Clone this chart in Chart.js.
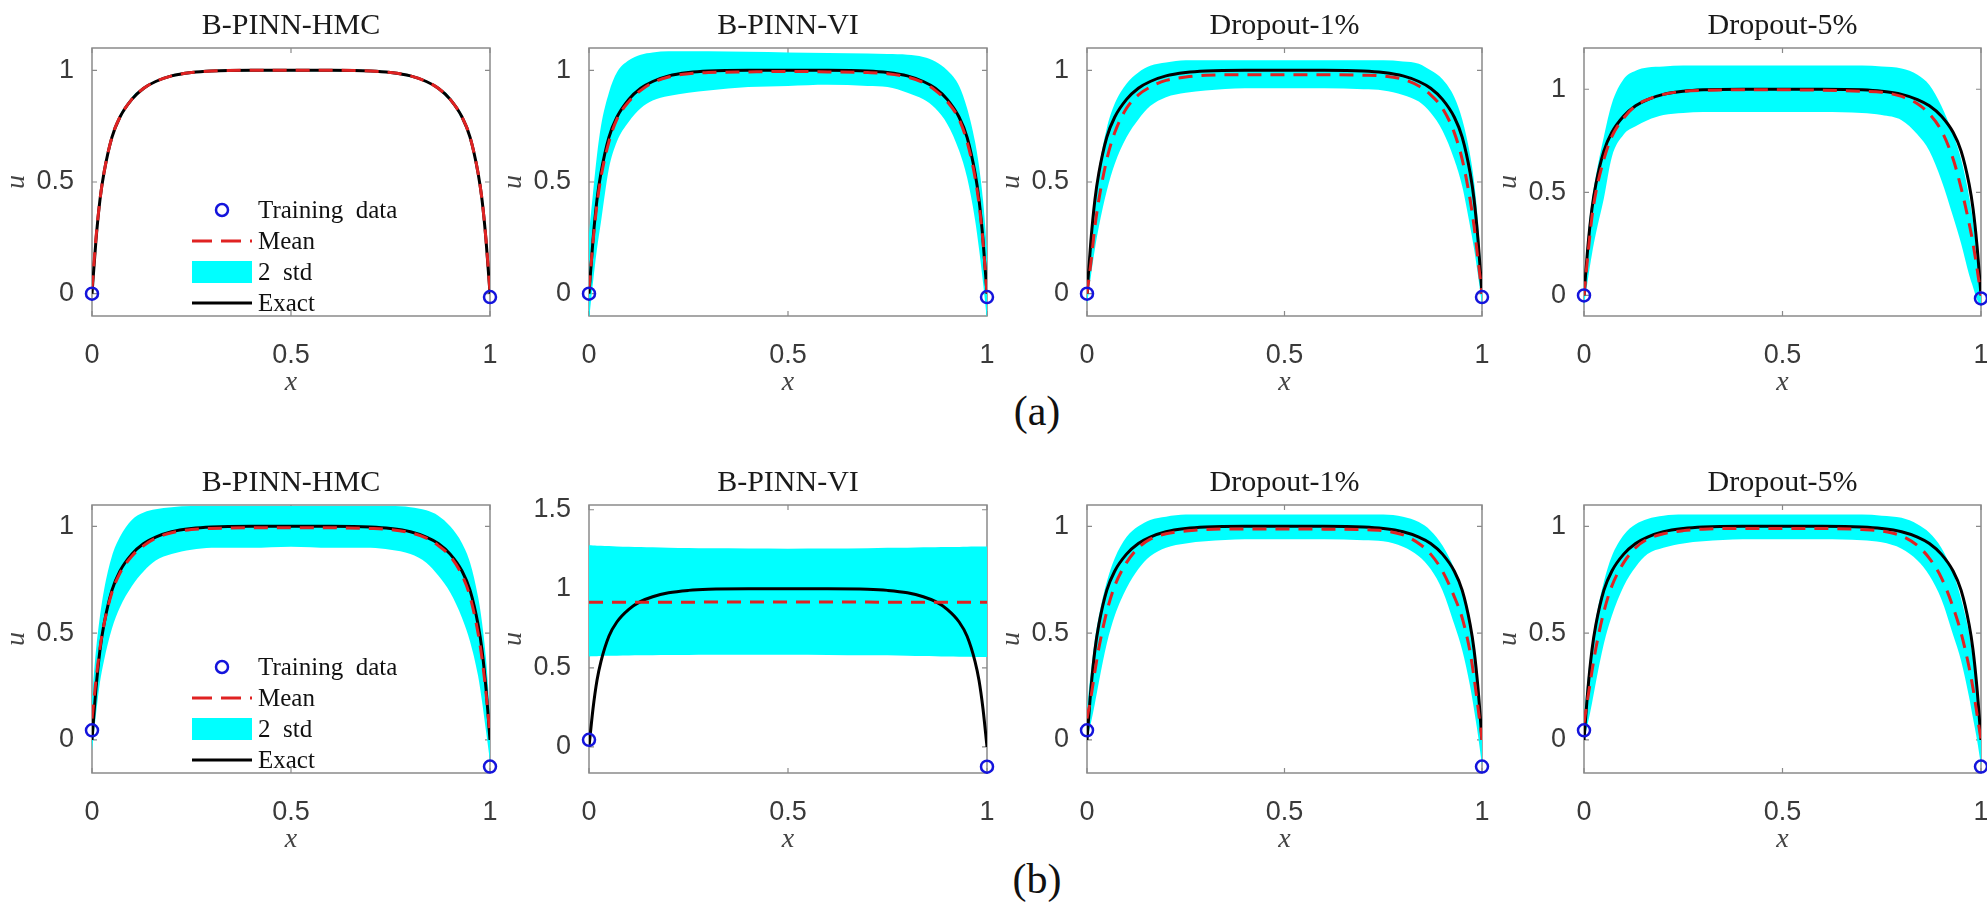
<!DOCTYPE html>
<html>
<head>
<meta charset="utf-8">
<script src="https://cdn.jsdelivr.net/npm/chart.js@4.4.1/dist/chart.umd.min.js"></script>
<style>
  body { margin: 0; background: #fff; width: 1987px; height: 905px; position: relative; overflow: hidden; }
  .panel { position: absolute; }
  .tag { position: absolute; font-family: 'Liberation Serif', serif; font-size: 42px; line-height: 1; color: #111; transform: translate(-50%, -50%); }
</style>
</head>
<body>
<div class="tag" style="left:1037px; top:411px">(a)</div>
<div class="tag" style="left:1037px; top:879px">(b)</div>
<script>
// x positions shared by every curve
const xGrid = [0, 0.01, 0.02, 0.03, 0.05, 0.07, 0.1, 0.13, 0.16, 0.2, 0.25, 0.3, 0.4, 0.5, 0.6, 0.7, 0.75, 0.8, 0.84, 0.87, 0.9, 0.93, 0.95, 0.97, 0.98, 0.99, 1];
const exactU = [0, 0.24, 0.42, 0.54, 0.70, 0.79, 0.87, 0.92, 0.95, 0.975, 0.99, 0.997, 1, 1, 1, 0.997, 0.99, 0.975, 0.95, 0.92, 0.87, 0.79, 0.70, 0.54, 0.42, 0.24, 0];

// training data
const trainX = [0, 1];
const trainA = [0.0, -0.015];
const trainB = [0.045, -0.125];

// (a) B-PINN-HMC
const meanA1 = [0.02, 0.25, 0.42, 0.54, 0.70, 0.79, 0.87, 0.92, 0.95, 0.975, 0.99, 0.997, 1, 1, 1, 0.997, 0.99, 0.975, 0.95, 0.92, 0.87, 0.79, 0.70, 0.54, 0.42, 0.24, 0.01];
const upA1 = [0.03, 0.26, 0.43, 0.55, 0.71, 0.80, 0.88, 0.925, 0.955, 0.98, 0.995, 1.0, 1.004, 1.004, 1.004, 1.0, 0.995, 0.98, 0.955, 0.925, 0.88, 0.80, 0.71, 0.55, 0.43, 0.25, 0.02];
const loA1 = [0.01, 0.24, 0.41, 0.53, 0.69, 0.78, 0.86, 0.915, 0.945, 0.97, 0.985, 0.994, 0.996, 0.996, 0.996, 0.994, 0.985, 0.97, 0.945, 0.915, 0.86, 0.78, 0.69, 0.53, 0.41, 0.23, 0.0];

// (a) B-PINN-VI
const meanA2 = [0.02, 0.23, 0.40, 0.52, 0.68, 0.78, 0.86, 0.91, 0.945, 0.97, 0.985, 0.99, 0.993, 0.995, 0.993, 0.99, 0.985, 0.97, 0.945, 0.91, 0.86, 0.78, 0.68, 0.52, 0.40, 0.23, 0.0];
const upA2 = [0.27, 0.45, 0.62, 0.75, 0.90, 0.99, 1.045, 1.07, 1.08, 1.085, 1.085, 1.085, 1.083, 1.08, 1.078, 1.075, 1.073, 1.07, 1.06, 1.04, 1.0, 0.93, 0.83, 0.68, 0.57, 0.42, 0.2];
const loA2 = [-0.12, 0.05, 0.2, 0.32, 0.56, 0.68, 0.77, 0.83, 0.865, 0.885, 0.9, 0.91, 0.925, 0.93, 0.935, 0.93, 0.925, 0.9, 0.87, 0.83, 0.76, 0.64, 0.52, 0.33, 0.2, 0.05, -0.12];

// (a) Dropout-1%
const meanA3 = [0.0, 0.14, 0.3, 0.42, 0.6, 0.72, 0.83, 0.89, 0.925, 0.955, 0.97, 0.978, 0.98, 0.98, 0.98, 0.978, 0.975, 0.96, 0.93, 0.89, 0.83, 0.72, 0.6, 0.42, 0.3, 0.15, 0.0];
const upA3 = [0.05, 0.28, 0.43, 0.56, 0.74, 0.85, 0.94, 0.99, 1.02, 1.035, 1.045, 1.045, 1.045, 1.045, 1.045, 1.045, 1.045, 1.04, 1.03, 1.0, 0.96, 0.88, 0.78, 0.62, 0.5, 0.32, 0.05];
const loA3 = [-0.05, 0.08, 0.2, 0.3, 0.46, 0.58, 0.7, 0.78, 0.84, 0.88, 0.9, 0.91, 0.92, 0.92, 0.92, 0.915, 0.91, 0.89, 0.86, 0.81, 0.73, 0.6, 0.48, 0.3, 0.2, 0.08, -0.05];

// (a) Dropout-5%
const meanA4 = [0.0, 0.2, 0.38, 0.5, 0.66, 0.77, 0.86, 0.92, 0.95, 0.975, 0.99, 0.995, 0.997, 0.997, 0.995, 0.99, 0.985, 0.965, 0.93, 0.88, 0.8, 0.66, 0.52, 0.35, 0.25, 0.13, 0.0];
const upA4 = [0.02, 0.3, 0.46, 0.58, 0.77, 0.93, 1.05, 1.09, 1.105, 1.11, 1.115, 1.115, 1.115, 1.115, 1.115, 1.115, 1.11, 1.1, 1.07, 1.02, 0.92, 0.78, 0.66, 0.48, 0.36, 0.2, 0.02];
const loA4 = [-0.05, 0.08, 0.2, 0.3, 0.47, 0.67, 0.78, 0.82, 0.85, 0.875, 0.885, 0.89, 0.89, 0.89, 0.89, 0.885, 0.875, 0.85, 0.78, 0.7, 0.56, 0.38, 0.25, 0.1, 0.04, -0.02, -0.05];

// (b) B-PINN-HMC
const meanB1 = [0.1, 0.28, 0.43, 0.54, 0.69, 0.78, 0.86, 0.91, 0.945, 0.97, 0.985, 0.99, 0.993, 0.993, 0.993, 0.99, 0.985, 0.97, 0.945, 0.91, 0.86, 0.77, 0.67, 0.5, 0.38, 0.22, 0.02];
const upB1 = [0.2, 0.42, 0.58, 0.7, 0.86, 0.95, 1.03, 1.065, 1.08, 1.09, 1.095, 1.095, 1.095, 1.095, 1.095, 1.095, 1.095, 1.09, 1.075, 1.05, 1.0, 0.92, 0.83, 0.67, 0.55, 0.38, 0.12];
const loB1 = [-0.05, 0.12, 0.27, 0.37, 0.52, 0.62, 0.72, 0.79, 0.84, 0.87, 0.89, 0.9, 0.9, 0.905, 0.9, 0.9, 0.89, 0.87, 0.83, 0.77, 0.69, 0.57, 0.46, 0.3, 0.18, 0.04, -0.1];

// (b) B-PINN-VI
const meanB2 = [0.915, 0.915, 0.915, 0.915, 0.915, 0.915, 0.915, 0.915, 0.915, 0.915, 0.915, 0.916, 0.916, 0.916, 0.916, 0.916, 0.915, 0.915, 0.915, 0.915, 0.915, 0.915, 0.915, 0.915, 0.915, 0.915, 0.915];
const upB2 = [1.275, 1.274, 1.273, 1.272, 1.27, 1.268, 1.266, 1.264, 1.262, 1.26, 1.258, 1.256, 1.255, 1.254, 1.255, 1.257, 1.259, 1.26, 1.262, 1.263, 1.264, 1.265, 1.266, 1.267, 1.267, 1.267, 1.267];
const loB2 = [0.572, 0.573, 0.574, 0.575, 0.576, 0.577, 0.578, 0.579, 0.58, 0.581, 0.582, 0.583, 0.583, 0.583, 0.582, 0.58, 0.579, 0.577, 0.575, 0.574, 0.572, 0.571, 0.57, 0.569, 0.568, 0.568, 0.568];

// (b) Dropout-1%
const meanB3 = [0.1, 0.2, 0.32, 0.43, 0.6, 0.72, 0.83, 0.9, 0.94, 0.965, 0.978, 0.985, 0.988, 0.988, 0.987, 0.985, 0.98, 0.96, 0.92, 0.87, 0.79, 0.67, 0.57, 0.41, 0.29, 0.15, 0.0];
const upB3 = [0.15, 0.32, 0.47, 0.58, 0.74, 0.85, 0.95, 1.0, 1.03, 1.045, 1.055, 1.055, 1.055, 1.055, 1.055, 1.055, 1.055, 1.045, 1.02, 0.98, 0.91, 0.8, 0.69, 0.53, 0.41, 0.25, 0.02];
const loB3 = [0.0, 0.08, 0.17, 0.27, 0.45, 0.58, 0.71, 0.8, 0.86, 0.9, 0.92, 0.93, 0.94, 0.94, 0.94, 0.935, 0.93, 0.905, 0.86, 0.8, 0.7, 0.54, 0.42, 0.25, 0.14, 0.02, -0.12];

// (b) Dropout-5%
const meanB4 = [0.08, 0.2, 0.32, 0.43, 0.6, 0.72, 0.83, 0.9, 0.94, 0.965, 0.98, 0.987, 0.99, 0.99, 0.99, 0.985, 0.978, 0.955, 0.91, 0.85, 0.76, 0.62, 0.5, 0.34, 0.24, 0.12, 0.0];
const upB4 = [0.12, 0.3, 0.45, 0.57, 0.74, 0.86, 0.96, 1.01, 1.035, 1.05, 1.055, 1.055, 1.055, 1.055, 1.055, 1.055, 1.05, 1.04, 1.01, 0.97, 0.9, 0.78, 0.66, 0.5, 0.38, 0.23, 0.02];
const loB4 = [0.0, 0.08, 0.17, 0.27, 0.45, 0.58, 0.72, 0.81, 0.87, 0.9, 0.92, 0.93, 0.94, 0.94, 0.94, 0.935, 0.925, 0.895, 0.84, 0.77, 0.66, 0.49, 0.37, 0.2, 0.1, 0.0, -0.12];

// tick labels
const xTicks = [0, 0.5, 1];
const yTicks = [0, 0.5, 1];
const yTicksWide = [0, 0.5, 1, 1.5];
const legendLabels = ['Training  data', 'Mean', '2  std', 'Exact'];

const panels = [
  { title: 'B-PINN-HMC', mean: meanA1, up: upA1, lo: loA1, train: trainA, yMin: -0.1, yMax: 1.1, ticks: yTicks, row: 0, col: 0, legend: true },
  { title: 'B-PINN-VI', mean: meanA2, up: upA2, lo: loA2, train: trainA, yMin: -0.1, yMax: 1.1, ticks: yTicks, row: 0, col: 1 },
  { title: 'Dropout-1%', mean: meanA3, up: upA3, lo: loA3, train: trainA, yMin: -0.1, yMax: 1.1, ticks: yTicks, row: 0, col: 2 },
  { title: 'Dropout-5%', mean: meanA4, up: upA4, lo: loA4, train: trainA, yMin: -0.1, yMax: 1.2, ticks: yTicks, row: 0, col: 3 },
  { title: 'B-PINN-HMC', mean: meanB1, up: upB1, lo: loB1, train: trainB, yMin: -0.155, yMax: 1.1, ticks: yTicks, row: 1, col: 0, legend: true },
  { title: 'B-PINN-VI', mean: meanB2, up: upB2, lo: loB2, train: trainB, yMin: -0.165, yMax: 1.53, ticks: yTicksWide, row: 1, col: 1 },
  { title: 'Dropout-1%', mean: meanB3, up: upB3, lo: loB3, train: trainB, yMin: -0.155, yMax: 1.1, ticks: yTicks, row: 1, col: 2 },
  { title: 'Dropout-5%', mean: meanB4, up: upB4, lo: loB4, train: trainB, yMin: -0.155, yMax: 1.1, ticks: yTicks, row: 1, col: 3 }
];

// axes box placement (pixels)
const colLeft = [92, 589, 1087, 1584];
const colRight = [490, 987, 1482, 1981];
const rowTop = [48, 505];
const rowBottom = [316, 773];
const Y_AXIS_W = 92, X_AXIS_H = 84, TITLE_H = 48, RIGHT_PAD = 10;

const RED = '#e02222', BLUE = '#1414dc', CYAN = '#00ffff', BOX = '#8a8a8a';

const pts = (xs, ys) => xs.map((x, i) => ({ x: x, y: ys[i] }));

// matlab-like box, inward ticks and legend
const boxPlugin = {
  id: 'matBox',
  beforeDatasetsDraw(chart) {
    const { ctx, chartArea: a, scales } = chart;
    ctx.save();
    ctx.strokeStyle = BOX;
    ctx.lineWidth = 1.5;
    ctx.strokeRect(a.left, a.top, a.right - a.left, a.bottom - a.top);
    ctx.lineWidth = 1.2;
    ctx.beginPath();
    scales.x.ticks.forEach(t => {
      const px = scales.x.getPixelForValue(t.value);
      ctx.moveTo(px, a.bottom); ctx.lineTo(px, a.bottom - 5);
      ctx.moveTo(px, a.top); ctx.lineTo(px, a.top + 5);
    });
    scales.y.ticks.forEach(t => {
      const py = scales.y.getPixelForValue(t.value);
      ctx.moveTo(a.left, py); ctx.lineTo(a.left + 5, py);
      ctx.moveTo(a.right, py); ctx.lineTo(a.right - 5, py);
    });
    ctx.stroke();
    ctx.restore();
  },
  afterDatasetsDraw(chart, args, opts) {
    if (!opts.show) return;
    const { ctx, chartArea: a } = chart;
    const ds = chart.data.datasets;
    const x0 = a.left + 100, x1 = a.left + 160, tx = a.left + 166;
    const rowY = i => a.top + 162 + i * 31;
    ctx.save();
    // training data
    ctx.strokeStyle = ds[0].pointBorderColor;
    ctx.lineWidth = ds[0].pointBorderWidth;
    ctx.beginPath();
    ctx.arc((x0 + x1) / 2, rowY(0), ds[0].pointRadius, 0, Math.PI * 2);
    ctx.stroke();
    // mean
    ctx.strokeStyle = ds[1].borderColor;
    ctx.lineWidth = ds[1].borderWidth;
    ctx.setLineDash([20, 9]);
    ctx.beginPath(); ctx.moveTo(x0, rowY(1)); ctx.lineTo(x1, rowY(1)); ctx.stroke();
    ctx.setLineDash([]);
    // 2 std
    ctx.fillStyle = ds[3].backgroundColor;
    ctx.fillRect(x0, rowY(2) - 11, x1 - x0, 22);
    // exact
    ctx.strokeStyle = ds[2].borderColor;
    ctx.lineWidth = ds[2].borderWidth;
    ctx.beginPath(); ctx.moveTo(x0, rowY(3)); ctx.lineTo(x1, rowY(3)); ctx.stroke();
    ctx.fillStyle = '#111';
    ctx.font = '25px "Liberation Serif"';
    ctx.textBaseline = 'middle';
    legendLabels.forEach((l, i) => ctx.fillText(l, tx, rowY(i) + 1));
    ctx.restore();
  }
};

const tickFont = { family: '"Liberation Sans", Arial, sans-serif', size: 27 };
const labelFont = { family: '"Liberation Serif", serif', size: 28, style: 'italic' };

panels.forEach(p => {
  const L = colLeft[p.col], R = colRight[p.col], T = rowTop[p.row], B = rowBottom[p.row];
  const w = Y_AXIS_W + (R - L) + RIGHT_PAD;
  const h = TITLE_H + (B - T) + X_AXIS_H;
  const div = document.createElement('div');
  div.className = 'panel';
  div.style.left = (L - Y_AXIS_W) + 'px';
  div.style.top = (T - TITLE_H) + 'px';
  const cv = document.createElement('canvas');
  cv.width = w; cv.height = h;
  cv.style.width = w + 'px'; cv.style.height = h + 'px';
  div.appendChild(cv);
  document.body.appendChild(div);

  const curve = { pointRadius: 0, cubicInterpolationMode: 'monotone', fill: false };
  new Chart(cv, {
    type: 'line',
    data: {
      datasets: [
        { label: legendLabels[0], data: pts(trainX, p.train), showLine: false, pointStyle: 'circle',
          pointRadius: 6, pointBorderWidth: 2.5, pointBorderColor: BLUE, pointBackgroundColor: 'rgba(0,0,0,0)', clip: false },
        Object.assign({ label: legendLabels[1], data: pts(xGrid, p.mean), borderColor: RED, borderWidth: 3, borderDash: [14, 9] }, curve),
        Object.assign({ label: legendLabels[3], data: pts(xGrid, exactU), borderColor: '#000', borderWidth: 3 }, curve),
        Object.assign({ label: legendLabels[2], data: pts(xGrid, p.up), borderColor: 'rgba(0,0,0,0)', borderWidth: 0.01 }, curve, { fill: '+1', backgroundColor: CYAN }),
        Object.assign({ label: 'lower', data: pts(xGrid, p.lo), borderColor: 'rgba(0,0,0,0)', borderWidth: 0.01 }, curve)
      ]
    },
    options: {
      responsive: false,
      animation: false,
      events: [],
      layout: { padding: { left: 0, right: RIGHT_PAD, top: 0, bottom: 0 } },
      plugins: {
        legend: { display: false },
        tooltip: { enabled: false },
        title: { display: true, text: p.title, fullSize: false, color: '#1a1a1a',
          font: { family: '"Liberation Serif", serif', size: 30, weight: 'normal' },
          padding: { top: 8, bottom: 4 } },
        matBox: { show: !!p.legend }
      },
      scales: {
        x: {
          type: 'linear', min: 0, max: 1,
          grid: { display: false }, border: { display: false },
          ticks: { padding: 15, font: tickFont, color: '#3a3a3a', maxRotation: 0, callback: v => String(v) },
          afterBuildTicks: s => { s.ticks = xTicks.map(v => ({ value: v })); },
          afterFit: s => { s.height = X_AXIS_H; s.paddingLeft = 0; s.paddingRight = 0; },
          title: { display: true, text: 'x', font: labelFont, color: '#444', padding: { top: 0, bottom: 1 } }
        },
        y: {
          type: 'linear', min: p.yMin, max: p.yMax,
          grid: { display: false }, border: { display: false },
          ticks: { padding: 10, font: tickFont, color: '#3a3a3a', callback: v => String(v) },
          afterBuildTicks: s => { s.ticks = p.ticks.map(v => ({ value: v })); },
          afterFit: s => { s.width = Y_AXIS_W; s.paddingTop = 0; s.paddingBottom = 0; },
          title: { display: true, text: 'u', font: labelFont, color: '#444', padding: { top: 0, bottom: 0 } }
        }
      }
    },
    plugins: [boxPlugin]
  });
});
</script>
</body>
</html>
